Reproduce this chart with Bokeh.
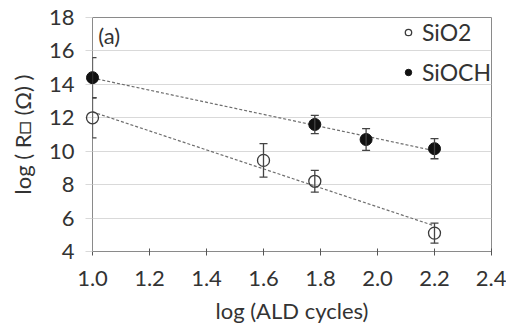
import numpy as np
from bokeh.plotting import figure
from bokeh.models import (ColumnDataSource, Whisker, TeeHead, Legend, LegendItem,
                          Range1d, FixedTicker, Label)
from bokeh.embed import file_html
from bokeh.resources import INLINE

# log(ALD cycles) and log(sheet resistance) for the two dielectrics
sio2_x = [1.0, 1.6, 1.78, 2.2]
sio2_y = [12.0, 9.45, 8.2, 5.1]
sio2_err = [1.2, 1.0, 0.65, 0.6]

sioch_x = [1.0, 1.78, 1.96, 2.2]
sioch_y = [14.4, 11.6, 10.7, 10.15]
sioch_err = [1.2, 0.55, 0.65, 0.6]

x_ticks = [1.0, 1.2, 1.4, 1.6, 1.8, 2.0, 2.2, 2.4]
y_ticks = [4, 6, 8, 10, 12, 14, 16, 18]

FONT = "Lato"
FS = "22px"
TEXT = "#333333"
AXIS = "#8a8a8a"
GRID = "#d9d9d9"

p = figure(width=506, height=328, output_backend="svg", toolbar_location=None,
           x_range=Range1d(1.0, 2.4), y_range=Range1d(4, 18),
           min_border_left=92, min_border_right=15, min_border_top=17,
           min_border_bottom=77)

p.outline_line_color = AXIS
p.outline_line_width = 1
p.background_fill_color = "white"

p.xgrid.visible = False
p.ygrid.grid_line_color = GRID
p.ygrid.grid_line_width = 1

p.xaxis.ticker = FixedTicker(ticks=x_ticks)
p.yaxis.ticker = FixedTicker(ticks=y_ticks)
p.xaxis.major_label_overrides = {t: f"{t:.1f}" for t in x_ticks}
p.xaxis.minor_tick_line_color = None
p.yaxis.minor_tick_line_color = None

for ax in (p.xaxis[0], p.yaxis[0]):
    ax.axis_line_color = AXIS
    ax.major_label_text_font = FONT
    ax.major_label_text_font_size = FS
    ax.major_label_text_color = TEXT
    ax.axis_label_text_font = FONT
    ax.axis_label_text_font_size = FS
    ax.axis_label_text_font_style = "normal"
    ax.axis_label_text_color = TEXT

p.xaxis.major_tick_line_color = "#555555"
p.xaxis.major_tick_in = 3
p.xaxis.major_tick_out = 4
p.xaxis.major_label_standoff = 15
p.xaxis.axis_label = "log (ALD cycles)"
p.xaxis.axis_label_standoff = 8

p.yaxis.major_tick_line_color = GRID
p.yaxis.major_tick_in = 0
p.yaxis.major_tick_out = 7
p.yaxis.major_label_standoff = 11
p.yaxis.axis_label = "log ( R\u25a1 (\u03a9) )"
p.yaxis.axis_label_standoff = 10


def linear_fit(xs, ys):
    slope, intercept = np.polyfit(xs, ys, 1)
    fx = np.array([min(xs), max(xs)])
    return fx, slope * fx + intercept


# dashed linear trends
for xs, ys in ((sioch_x, sioch_y), (sio2_x, sio2_y)):
    fx, fy = linear_fit(xs, ys)
    p.line(fx, fy, line_color="#6e6e6e", line_width=1.2, line_dash="3 2")

# error bars
for xs, ys, es in ((sioch_x, sioch_y, sioch_err), (sio2_x, sio2_y, sio2_err)):
    src = ColumnDataSource(dict(
        x=xs,
        upper=[y + e for y, e in zip(ys, es)],
        lower=[y - e for y, e in zip(ys, es)],
    ))
    w = Whisker(source=src, base="x", upper="upper", lower="lower",
                line_color="#444444", line_width=1.3, level="overlay",
                upper_head=TeeHead(size=8, line_color="#444444", line_width=1.3),
                lower_head=TeeHead(size=8, line_color="#444444", line_width=1.3))
    p.add_layout(w)

# markers drawn above the frame so the points on the y axis stay whole
r_sio2 = p.scatter(sio2_x, sio2_y, size=12, marker="circle",
                   fill_color="white", fill_alpha=0.0,
                   line_color="#3a3a3a", line_width=1.3, level="overlay")
r_sioch = p.scatter(sioch_x, sioch_y, size=12, marker="circle",
                    fill_color="#111111", line_color="#111111", level="overlay")

legend = Legend(items=[LegendItem(label="SiO2", renderers=[r_sio2]),
                       LegendItem(label="SiOCH", renderers=[r_sioch])],
                location="top_right", margin=0, padding=10, spacing=10,
                glyph_width=16, glyph_height=30, label_height=30,
                label_standoff=6,
                label_text_font=FONT, label_text_font_size="23px",
                label_text_color=TEXT,
                border_line_color=None, background_fill_alpha=0.0)
p.add_layout(legend)

p.add_layout(Label(x=1.02, y=17.75, x_units="data", y_units="data", text="(a)",
                   text_font=FONT, text_font_size=FS, text_color=TEXT,
                   text_baseline="top", text_align="left"))

open("out.html", "w").write(file_html(p, INLINE))
